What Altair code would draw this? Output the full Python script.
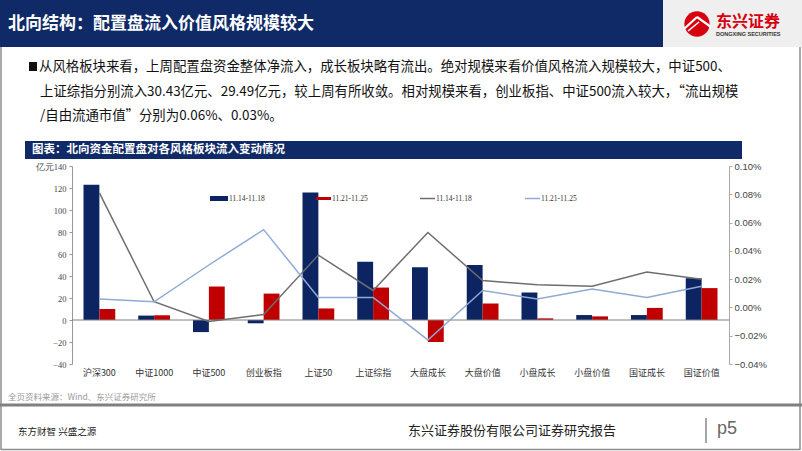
import altair as alt
import pandas as pd

# ---------------- data ----------------
categories = ["沪深300", "中证1000", "中证500", "创业板指", "上证50", "上证综指",
              "大盘成长", "大盘价值", "小盘成长", "小盘价值", "国证成长", "国证价值"]
periods = ["11.14-11.18", "11.21-11.25"]
# 北向配置盘流入（亿元）
flow_prev = [123, 4, -11, -3, 116, 53, 48, 50, 25, 4.5, 4.5, 38]
flow_curr = [10, 4.3, 30.43, 24, 10.5, 29.49, -20, 15, 1.5, 3.3, 11, 29]
# 流入规模/自由流通市值（%）
ratio_prev = [0.081, 0.004, -0.010, -0.005, 0.037, 0.012, 0.053, 0.019, 0.016, 0.015, 0.025, 0.020]
ratio_curr = [0.006, 0.004, 0.030, 0.055, 0.007, 0.007, -0.023, 0.012, 0.006, 0.013, 0.007, 0.015]

left_ticks = [-40, -20, 0, 20, 40, 60, 80, 100, 120, 140]
right_ticks = [-0.04, -0.02, 0.0, 0.02, 0.04, 0.06, 0.08, 0.10]

title_text = "北向结构：配置盘流入价值风格规模较大"
body_lines = [
    "从风格板块来看，上周配置盘资金整体净流入，成长板块略有流出。绝对规模来看价值风格流入规模较大，中证500、",
    "上证综指分别流入30.43亿元、29.49亿元，较上周有所收敛。相对规模来看，创业板指、中证500流入较大，“流出规模",
    "/自由流通市值”分别为0.06%、0.03%。",
]
chart_title = "图表：北向资金配置盘对各风格板块流入变动情况"
source_text = "全页资料来源：Wind、东兴证券研究所"

NAVY = "#0c2461"
RED = "#c00000"
GRAY_LINE = "#6e6e6e"
BLUE_LINE = "#8faad6"
HEADER = "#0f2a66"
CJK = "Noto Sans CJK SC"
SERIF = "Liberation Serif"
SANS = "Liberation Sans"

bars_df = pd.DataFrame({
    "cat": categories * 2,
    "bar_period": [periods[0]] * len(categories) + [periods[1]] * len(categories),
    "flow": flow_prev + flow_curr,
})
lines_df = pd.DataFrame({
    "cat": categories * 2,
    "line_period": [periods[0]] * len(categories) + [periods[1]] * len(categories),
    "ratio": ratio_prev + ratio_curr,
})

# ---------------- geometry ----------------
OX, OY = 72, 166
W, H = 657, 198

x_scale = alt.Scale(domain=categories, paddingInner=0.42, paddingOuter=0.21)
x_axis = alt.Axis(title=None, domain=False, ticks=False, labelAngle=0, labelFont=CJK,
                  labelFontSize=9, labelColor="#333333", labelPadding=4)

y_left_scale = alt.Scale(domain=[-40, 140], nice=False, zero=False)
y_left_axis = alt.Axis(title=None, values=left_ticks, grid=False, domainColor="#999999",
                       tickColor="#999999", tickSize=3, labelFont=SERIF, labelFontSize=8.5,
                       labelColor="#444444", labelPadding=3, labelOverlap=False,
                       labelFlush=False, labelBound=False,
                       labelExpr="datum.value == 140 ? '亿元140' : datum.label")

bars = alt.Chart(bars_df).mark_bar().encode(
    x=alt.X("cat:N", scale=x_scale, axis=x_axis, sort=categories),
    xOffset=alt.XOffset("bar_period:N", sort=periods),
    y=alt.Y("flow:Q", scale=y_left_scale, axis=y_left_axis),
    color=alt.Color("bar_period:N", scale=alt.Scale(domain=periods, range=[NAVY, RED]), legend=None),
)
zero_rule = alt.Chart(pd.DataFrame({"flow": [0]})).mark_rule(color="#808080", strokeWidth=1).encode(
    y=alt.Y("flow:Q", scale=y_left_scale, axis=y_left_axis))
left_layer = alt.layer(bars, zero_rule)

lines = alt.Chart(lines_df).mark_line(strokeWidth=1.5).encode(
    x=alt.X("cat:N", scale=x_scale, axis=x_axis, sort=categories, bandPosition=0.5),
    y=alt.Y("ratio:Q", scale=alt.Scale(domain=[-0.04, 0.10], nice=False, zero=False),
            axis=alt.Axis(title=None, orient="right", values=right_ticks, grid=False,
                          domainColor="#aaaaaa", tickColor="#aaaaaa", tickSize=3,
                          labelFont=SANS, labelFontSize=9.5, labelColor="#444444",
                          labelOverlap=False, labelFlush=False,
                          labelExpr="format(datum.value, '.2f') + '%'")),
    color=alt.Color("line_period:N", scale=alt.Scale(domain=periods, range=[GRAY_LINE, BLUE_LINE]),
                    legend=None),
    detail="line_period:N",
)

# ---------------- decorations ----------------
one = pd.DataFrame({"k": [0]})


def rect(x1, y1, x2, y2, color, **kw):
    return alt.Chart(one).mark_rect(color=color, **kw).encode(
        x=alt.value(x1 - OX), x2=alt.value(x2 - OX), y=alt.value(y1 - OY), y2=alt.value(y2 - OY))


def seg(x1, y1, x2, y2, color, width=1.0):
    return alt.Chart(one).mark_rule(color=color, strokeWidth=width).encode(
        x=alt.value(x1 - OX), x2=alt.value(x2 - OX), y=alt.value(y1 - OY), y2=alt.value(y2 - OY))


def txt(s, x, y, size, color, font=CJK, align="left", weight="normal", baseline="middle"):
    return alt.Chart(one).mark_text(text=s, fontSize=size, color=color, font=font, align=align,
                                    fontWeight=weight, baseline=baseline).encode(
        x=alt.value(x - OX), y=alt.value(y - OY))


deco = []
# header
deco.append(rect(0, 0, 663, 47, HEADER))
deco.append(rect(663, 0, 802, 47, "#efefef"))
deco.append(txt(title_text, 8, 24, 17, "white", weight="bold"))
# logo
deco.append(alt.Chart(one).mark_circle(color="#d7000f", opacity=1, size=640).encode(
    x=alt.value(697 - OX), y=alt.value(24 - OY)))
deco.append(seg(684, 29, 697, 17, "white", 2.2))
deco.append(seg(697, 17, 711, 27, "white", 2.2))
deco.append(seg(688, 31, 699, 22, "white", 1.6))
deco.append(txt("东兴证券", 716, 22, 16, "#d7000f", weight="bold"))
deco.append(txt("DONGXING SECURITIES", 716, 34, 5.5, "#333333", font=SANS, weight="bold"))
# slide frame
deco.append(seg(1, 47, 1, 450, "#8c8c8c", 1.5))
deco.append(seg(800, 47, 800, 450, "#8c8c8c", 1.5))
deco.append(seg(1, 449.5, 800, 449.5, "#8c8c8c", 1.5))
# body text
deco.append(rect(29, 62, 37, 71, "#111111"))
deco.append(txt(body_lines[0], 39, 67, 13.4, "#111111"))
deco.append(txt(body_lines[1], 40, 92, 13.4, "#111111"))
deco.append(txt(body_lines[2], 40, 116, 13.4, "#111111"))
# chart title band
deco.append(rect(25, 141, 742, 159, HEADER))
deco.append(txt(chart_title, 32, 150, 11.5, "white", weight="bold"))
# legend
leg_x = [210, 316, 420, 525]
deco.append(rect(210, 196, 228, 201, NAVY))
deco.append(seg(316, 198.5, 331, 198.5, RED, 3))
deco.append(seg(420, 198.5, 435, 198.5, GRAY_LINE, 1.5))
deco.append(seg(525, 198.5, 540, 198.5, BLUE_LINE, 1.5))
for i, lx in enumerate(leg_x):
    lab = periods[i % 2]
    off = 19 if i == 0 else 16
    deco.append(txt(lab, lx + off, 199, 7.5, "#333333", font=SERIF))
# source + footer
deco.append(txt(source_text, 8, 397, 8.5, "#9a9a9a"))
deco.append(seg(0, 405, 802, 405, "#808080", 3))
deco.append(txt("东方财智 兴盛之源", 18, 432, 9.5, "#222222"))
deco.append(txt("东兴证券股份有限公司证券研究报告", 408, 431, 13, "#222222"))
deco.append(seg(706, 418, 706, 443, "#888888", 1.5))
deco.append(txt("p5", 717, 429, 18, "#666666", font=SANS))

chart = alt.layer(left_layer, lines, *deco).resolve_scale(
    y="independent", color="independent"
).properties(
    width=W, height=H,
    padding={"left": OX, "top": OY, "right": 802 - OX - W, "bottom": 451 - OY - H},
    autosize=alt.AutoSizeParams(type="none"),
    background="white",
).configure_view(stroke=None)

chart.save("out.html", embed_options={"renderer": "svg", "actions": False})
